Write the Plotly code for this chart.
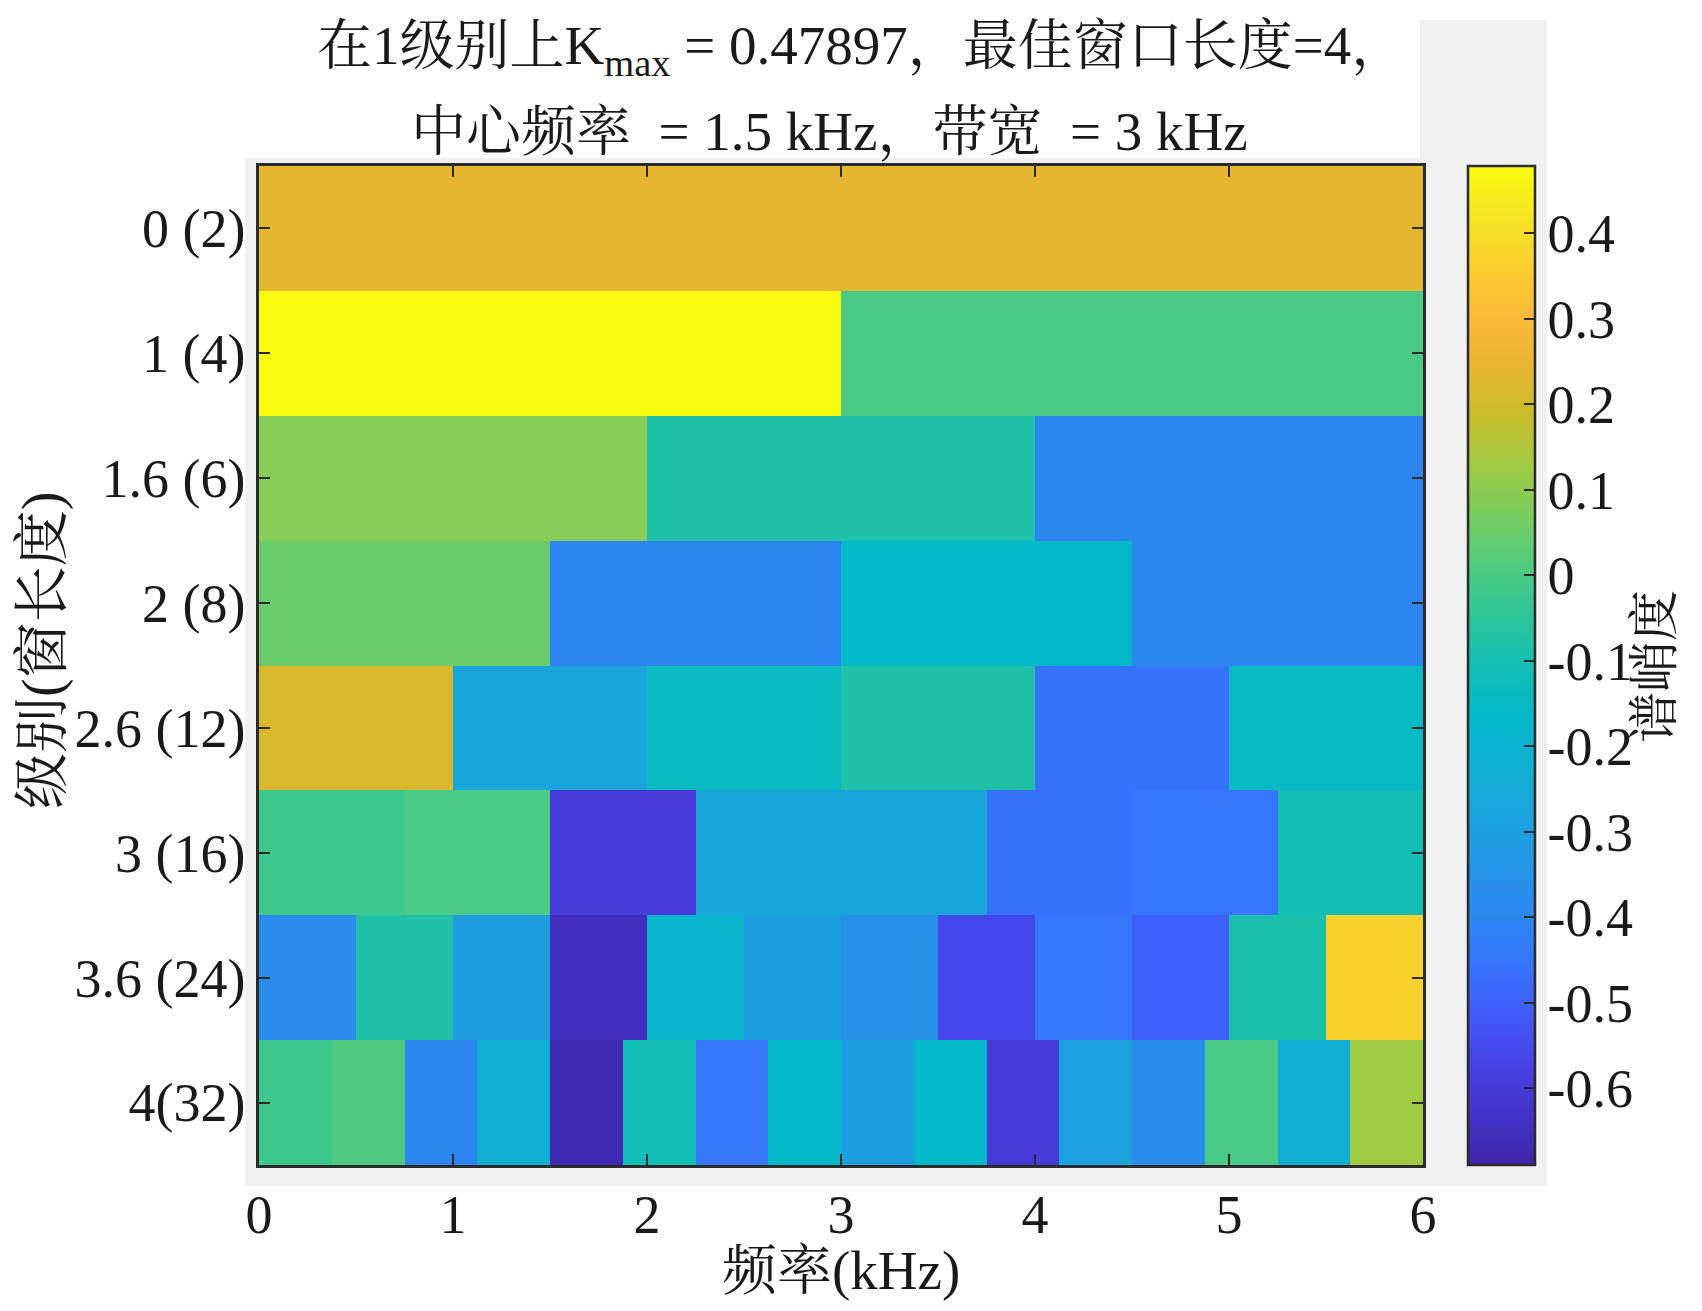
"""Kurtogram (spectral kurtosis map) recreated with Plotly."""
import numpy as np
import plotly.graph_objects as go

# level labels, top to bottom: level (window length)
levels = ["0 (2)", "1 (4)", "1.6 (6)", "2 (8)", "2.6 (12)", "3 (16)", "3.6 (24)", "4(32)"]

# spectral kurtosis of each frequency band, per level (bands split 0-6 kHz evenly)
sk_level_0 = [0.24]
sk_level_1 = [0.479, 0.0]
sk_level_16 = [0.09, -0.08, -0.40]
sk_level_2 = [0.05, -0.40, -0.16, -0.40]
sk_level_26 = [0.22, -0.27, -0.14, -0.08, -0.46, -0.15]
sk_level_3 = [-0.02, 0.00, -0.60, -0.27, -0.27, -0.46, -0.45, -0.11]
sk_level_36 = [-0.38, -0.08, -0.31, -0.65, -0.19, -0.30, -0.35, -0.56, -0.45, -0.50, -0.09, 0.37]
sk_level_4 = [-0.02, 0.01, -0.40, -0.22, -0.67, -0.11, -0.45, -0.16,
              -0.30, -0.16, -0.60, -0.29, -0.37, 0.00, -0.22, 0.13]

f_max = 6.0          # kHz
sk_min, sk_max = -0.69, 0.47897
cbar_ticks = [0.4, 0.3, 0.2, 0.1, 0, -0.1, -0.2, -0.3, -0.4, -0.5, -0.6]
x_ticks = [0, 1, 2, 3, 4, 5, 6]

rows = [sk_level_0, sk_level_1, sk_level_16, sk_level_2,
        sk_level_26, sk_level_3, sk_level_36, sk_level_4]
n_cols = 48  # common multiple of all band counts
z = np.array([np.repeat(r, n_cols // len(r)) for r in rows])
x_edges = np.linspace(0, f_max, n_cols + 1)

# MATLAB parula-like colour map
parula = [
    [0.00, "rgb(62,38,168)"],
    [0.05, "rgb(68,50,200)"],
    [0.10, "rgb(71,66,230)"],
    [0.15, "rgb(66,90,248)"],
    [0.20, "rgb(54,116,252)"],
    [0.25, "rgb(45,135,240)"],
    [0.30, "rgb(36,150,230)"],
    [0.35, "rgb(26,164,220)"],
    [0.40, "rgb(14,175,210)"],
    [0.45, "rgb(2,184,200)"],
    [0.50, "rgb(20,190,180)"],
    [0.55, "rgb(45,197,152)"],
    [0.60, "rgb(80,203,128)"],
    [0.65, "rgb(120,205,95)"],
    [0.70, "rgb(160,202,68)"],
    [0.75, "rgb(200,187,42)"],
    [0.80, "rgb(232,182,48)"],
    [0.85, "rgb(250,186,58)"],
    [0.90, "rgb(250,206,45)"],
    [0.95, "rgb(245,230,35)"],
    [1.00, "rgb(249,251,14)"],
]

FONT = "Times New Roman, Liberation Serif, Noto Serif CJK SC, Noto Sans CJK SC, serif"
INK = "#1a1a1a"

fig = go.Figure(
    go.Heatmap(
        z=z,
        x=x_edges,
        y=list(range(len(levels))),
        colorscale=parula,
        zmin=sk_min,
        zmax=sk_max,
        hoverinfo="skip",
        colorbar=dict(
            x=1.0387, xanchor="left", xpad=0,
            y=0.5, yanchor="middle", len=1, ypad=0,
            thickness=67,
            outlinewidth=2.5, outlinecolor="#2b2b2b",
            tickvals=cbar_ticks,
            ticktext=["%g" % t for t in cbar_ticks],
            ticks="inside", ticklen=12, tickwidth=2, tickcolor="#2b2b2b",
            tickfont=dict(family=FONT, size=54, color=INK),
        ),
    )
)

axis_common = dict(
    showline=True, linecolor="#2b2b2b", linewidth=2.5, mirror="ticks",
    ticks="inside", ticklen=11, tickwidth=2, tickcolor="#2b2b2b",
    showgrid=False, zeroline=False,
)

fig.update_xaxes(
    range=[0, f_max], tickvals=x_ticks, ticktext=[str(t) for t in x_ticks],
    tickfont=dict(family=FONT, size=54, color=INK), ticklabelstandoff=0,
    **axis_common,
)
fig.update_yaxes(
    range=[len(levels) - 0.5, -0.5], tickvals=list(range(len(levels))), ticktext=levels,
    tickfont=dict(family=FONT, size=54, color=INK), ticklabelstandoff=0,
    **axis_common,
)

W, H = 1702, 1311
PAGE = 8  # body margin of the page
L, R, T, B = 259, 1423, 166, 1165   # plot box on the page


def px(x):
    return (x - L) / (R - L)


def py(y):
    return (B - y) / (B - T)


# MATLAB figure grey panels
fig.add_shape(type="rect", xref="paper", yref="paper", layer="below",
              x0=px(245), x1=px(1547), y0=py(1186), y1=py(158),
              fillcolor="#f0f0f0", line=dict(width=0))
fig.add_shape(type="rect", xref="paper", yref="paper", layer="below",
              x0=px(1420), x1=px(1547), y0=py(158), y1=py(20),
              fillcolor="#f0f0f0", line=dict(width=0))

title_font = dict(family=FONT, size=55, color=INK)
fig.add_annotation(
    text="在1级别上K<sub>max</sub> = 0.47897，最佳窗口长度=4，",
    xref="paper", yref="paper", x=0.5, y=py(49), xanchor="center", yanchor="middle",
    xshift=20, showarrow=False, font=title_font,
)
fig.add_annotation(
    text="中心频率 \u00a0= 1.5 kHz，带宽 \u00a0= 3 kHz",
    xref="paper", yref="paper", x=0.5, y=py(131), xanchor="center", yanchor="middle",
    xshift=-12, showarrow=False, font=title_font,
)
fig.add_annotation(
    text="频率(kHz)", xref="paper", yref="paper", x=0.5, y=py(1270),
    xanchor="center", yanchor="middle", showarrow=False, font=title_font,
)
fig.add_annotation(
    text="级别(窗长度)", xref="paper", yref="paper", x=px(42), y=py(651),
    xanchor="center", yanchor="middle", textangle=-90, showarrow=False,
    font=dict(family=FONT, size=56, color=INK),
)
fig.add_annotation(
    text="谱峭度", xref="paper", yref="paper", x=px(1655), y=py(667),
    xanchor="center", yanchor="middle", textangle=-90, showarrow=False,
    font=dict(family=FONT, size=51, color=INK),
)

fig.update_layout(
    width=W, height=H,
    margin=dict(l=L - PAGE, r=W - R + PAGE, t=T - PAGE, b=H - B + PAGE, pad=0),
    paper_bgcolor="white", plot_bgcolor="white",
    showlegend=False,
)

fig.write_html("out.html")
